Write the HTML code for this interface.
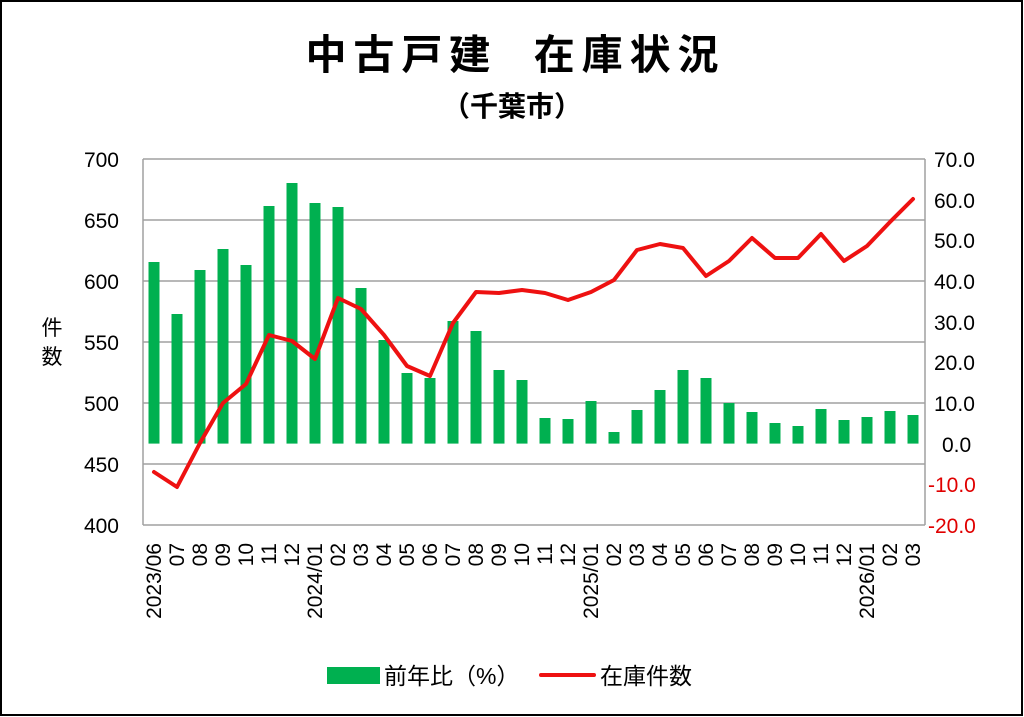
<!DOCTYPE html>
<html><head><meta charset="utf-8"><style>
body{margin:0;background:#fff}
svg{display:block}
text{font-family:"Liberation Sans","Noto Sans CJK JP",sans-serif;}
</style></head><body>
<svg width="1024" height="717" viewBox="0 0 1024 717" xmlns="http://www.w3.org/2000/svg">
<rect x="1" y="1" width="1021" height="714" fill="#fff" stroke="#000" stroke-width="2"/>
<text x="512" y="69" text-anchor="middle" font-size="41" font-weight="bold" textLength="413" lengthAdjust="spacing" font-family="Noto Sans CJK JP, sans-serif">中古戸建&#160;&#160;在庫状況</text>
<text x="512" y="116" text-anchor="middle" font-size="28" font-weight="bold" font-family="Noto Sans CJK JP, sans-serif">（千葉市）</text>
<g stroke="#a0a0a0" stroke-width="1.5" fill="none">
<line x1="143" y1="159" x2="925" y2="159"/>
<line x1="143" y1="220" x2="925" y2="220"/>
<line x1="143" y1="281" x2="925" y2="281"/>
<line x1="143" y1="342" x2="925" y2="342"/>
<line x1="143" y1="403" x2="925" y2="403"/>
<line x1="143" y1="464" x2="925" y2="464"/>
<line x1="143" y1="525" x2="925" y2="525"/>
<line x1="143" y1="159" x2="143" y2="525"/>
<line x1="925" y1="159" x2="925" y2="525"/>
</g>
<g font-size="21" fill="#000" text-anchor="end">
<text x="119" y="167">700</text><text x="119" y="228">650</text><text x="119" y="289">600</text><text x="119" y="350">550</text><text x="119" y="411">500</text><text x="119" y="472">450</text><text x="119" y="533">400</text>
</g>
<g font-size="21" fill="#000" text-anchor="start">
<text x="934" y="167">70.0</text><text x="934" y="208">60.0</text><text x="934" y="248">50.0</text><text x="934" y="289">40.0</text><text x="934" y="330">30.0</text><text x="934" y="370">20.0</text><text x="934" y="411">10.0</text><text x="942" y="452">0.0</text>
<text x="928" y="492" fill="#e00000">-10.0</text><text x="928" y="533" fill="#e00000">-20.0</text>
</g>
<text x="52" y="335" font-size="21" text-anchor="middle" font-family="Noto Sans CJK JP, sans-serif">件</text>
<text x="52" y="364" font-size="21" text-anchor="middle" font-family="Noto Sans CJK JP, sans-serif">数</text>
<g fill="#00b050">
<rect x="148.5" y="262" width="11" height="181.6"/>
<rect x="171.5" y="314" width="11" height="129.6"/>
<rect x="194.5" y="270" width="11" height="173.6"/>
<rect x="217.5" y="249" width="11" height="194.6"/>
<rect x="240.5" y="265" width="11" height="178.6"/>
<rect x="263.5" y="206" width="11" height="237.6"/>
<rect x="286.5" y="183" width="11" height="260.6"/>
<rect x="309.5" y="203" width="11" height="240.6"/>
<rect x="332.5" y="207" width="11" height="236.6"/>
<rect x="355.5" y="288" width="11" height="155.6"/>
<rect x="378.5" y="340" width="11" height="103.6"/>
<rect x="401.5" y="373" width="11" height="70.6"/>
<rect x="424.5" y="378" width="11" height="65.6"/>
<rect x="447.5" y="321" width="11" height="122.6"/>
<rect x="470.5" y="331" width="11" height="112.6"/>
<rect x="493.5" y="370" width="11" height="73.6"/>
<rect x="516.5" y="380" width="11" height="63.6"/>
<rect x="539.5" y="418" width="11" height="25.6"/>
<rect x="562.5" y="419" width="11" height="24.6"/>
<rect x="585.5" y="401" width="11" height="42.6"/>
<rect x="608.5" y="432" width="11" height="11.6"/>
<rect x="631.5" y="410" width="11" height="33.6"/>
<rect x="654.5" y="390" width="11" height="53.6"/>
<rect x="677.5" y="370" width="11" height="73.6"/>
<rect x="700.5" y="378" width="11" height="65.6"/>
<rect x="723.5" y="403" width="11" height="40.6"/>
<rect x="746.5" y="412" width="11" height="31.6"/>
<rect x="769.5" y="423" width="11" height="20.6"/>
<rect x="792.5" y="426" width="11" height="17.6"/>
<rect x="815.5" y="409" width="11" height="34.6"/>
<rect x="838.5" y="420" width="11" height="23.6"/>
<rect x="861.5" y="417" width="11" height="26.6"/>
<rect x="884.5" y="411" width="11" height="32.6"/>
<rect x="907.5" y="415" width="11" height="28.6"/>
</g>
<polyline fill="none" stroke="#ee1111" stroke-width="4" stroke-linejoin="round" stroke-linecap="round" points="154,472 177,487 200,443 223,403 246,384 269,335 292,341 315,359 338,298 361,309 384,335 407,366 430,376 453,323 476,292 499,293 522,290 545,293 568,300 591,292 614,280 637,250 660,244 683,248 706,276 729,261 752,238 775,258 798,258 821,234 844,261 867,246 890,222 913,199"/>
<g font-size="21" fill="#000" text-anchor="end">
<text transform="translate(161,543) rotate(-90)">2023/06</text>
<text transform="translate(184,543) rotate(-90)">07</text>
<text transform="translate(207,543) rotate(-90)">08</text>
<text transform="translate(230,543) rotate(-90)">09</text>
<text transform="translate(253,543) rotate(-90)">10</text>
<text transform="translate(276,543) rotate(-90)">11</text>
<text transform="translate(299,543) rotate(-90)">12</text>
<text transform="translate(322,543) rotate(-90)">2024/01</text>
<text transform="translate(345,543) rotate(-90)">02</text>
<text transform="translate(368,543) rotate(-90)">03</text>
<text transform="translate(391,543) rotate(-90)">04</text>
<text transform="translate(414,543) rotate(-90)">05</text>
<text transform="translate(437,543) rotate(-90)">06</text>
<text transform="translate(460,543) rotate(-90)">07</text>
<text transform="translate(483,543) rotate(-90)">08</text>
<text transform="translate(506,543) rotate(-90)">09</text>
<text transform="translate(529,543) rotate(-90)">10</text>
<text transform="translate(552,543) rotate(-90)">11</text>
<text transform="translate(575,543) rotate(-90)">12</text>
<text transform="translate(598,543) rotate(-90)">2025/01</text>
<text transform="translate(621,543) rotate(-90)">02</text>
<text transform="translate(644,543) rotate(-90)">03</text>
<text transform="translate(667,543) rotate(-90)">04</text>
<text transform="translate(690,543) rotate(-90)">05</text>
<text transform="translate(713,543) rotate(-90)">06</text>
<text transform="translate(736,543) rotate(-90)">07</text>
<text transform="translate(759,543) rotate(-90)">08</text>
<text transform="translate(782,543) rotate(-90)">09</text>
<text transform="translate(805,543) rotate(-90)">10</text>
<text transform="translate(828,543) rotate(-90)">11</text>
<text transform="translate(851,543) rotate(-90)">12</text>
<text transform="translate(874,543) rotate(-90)">2026/01</text>
<text transform="translate(897,543) rotate(-90)">02</text>
<text transform="translate(920,543) rotate(-90)">03</text>
</g>
<rect x="327" y="667" width="53" height="17" fill="#00b050"/>
<text x="384" y="684" font-size="23" font-family="Noto Sans CJK JP, sans-serif">前年比（%）</text>
<line x1="541" y1="675" x2="594" y2="675" stroke="#ee1111" stroke-width="4" stroke-linecap="round"/>
<text x="600" y="684" font-size="23" font-family="Noto Sans CJK JP, sans-serif">在庫件数</text>
</svg>
</body></html>
